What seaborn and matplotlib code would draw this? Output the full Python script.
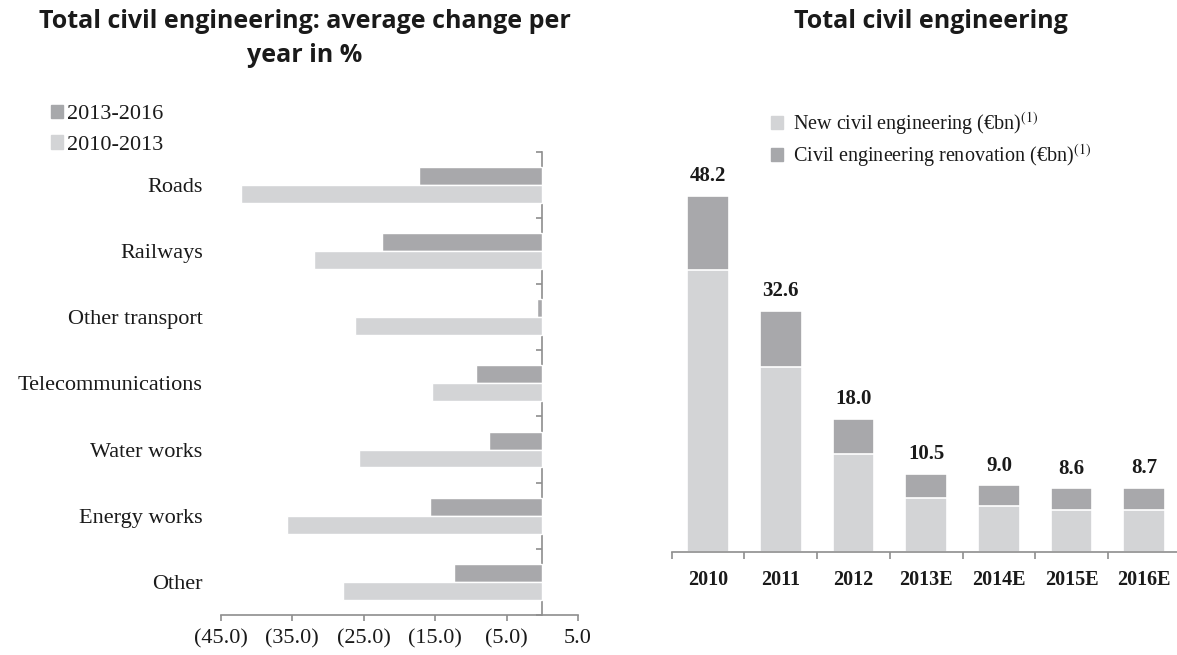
import numpy as np
import pandas as pd
import matplotlib
matplotlib.use("Agg")
import matplotlib.pyplot as plt
from matplotlib.patches import Patch
import seaborn as sns

# ---- data -------------------------------------------------------------
categories = ["Roads", "Railways", "Other transport", "Telecommunications",
              "Water works", "Energy works", "Other"]
change_2013_2016 = [-17.3, -22.4, -0.7, -9.3, -7.4, -15.7, -12.4]
change_2010_2013 = [-42.1, -32.0, -26.2, -15.4, -25.7, -35.7, -27.9]
periods = ["2013-2016", "2010-2013"]

xtick_values = [-45, -35, -25, -15, -5, 5]
xtick_labels = ["(45.0)", "(35.0)", "(25.0)", "(15.0)", "(5.0)", "5.0"]

years = ["2010", "2011", "2012", "2013E", "2014E", "2015E", "2016E"]
total_bn = [48.2, 32.6, 18.0, 10.5, 9.0, 8.6, 8.7]
new_bn = [38.2, 25.0, 13.2, 7.3, 6.2, 5.7, 5.7]
renovation_bn = [t - n for t, n in zip(total_bn, new_bn)]

# ---- style ------------------------------------------------------------
DARK = "#a7a8ab"
LIGHT = "#d3d4d6"
AXIS = "#8e8e8e"
TEXT = "#1a1a1a"
TITLE_FONT = dict(fontsize=18, fontweight="bold", family="Open Sans",
                  ha="center", va="center")

sns.set_style("white")
plt.rcParams["font.family"] = ["Liberation Serif", "DejaVu Serif"]
plt.rcParams["mathtext.fontset"] = "stix"
plt.rcParams["text.color"] = TEXT
plt.rcParams["xtick.color"] = AXIS
plt.rcParams["ytick.color"] = AXIS
plt.rcParams["xtick.labelcolor"] = TEXT
plt.rcParams["ytick.labelcolor"] = TEXT

fig = plt.figure(figsize=(11.77, 6.55), dpi=100)

# ---- left: average change per year -------------------------------------
df_change = pd.DataFrame({
    "category": categories * 2,
    "change": change_2013_2016 + change_2010_2013,
    "period": [periods[0]] * len(categories) + [periods[1]] * len(categories),
})

ax1 = fig.add_axes([0.1875, 0.0611, 0.3036, 0.7073])
sns.barplot(data=df_change, y="category", x="change", hue="period",
            hue_order=periods, palette=[DARK, LIGHT], orient="h",
            width=0.54, edgecolor="white", linewidth=1, errorbar=None,
            legend=False, ax=ax1)
ax1.set_xlim(-45, 5)
ax1.set_ylim(len(categories) - 0.5, -0.5)
ax1.set_xlabel("")
ax1.set_ylabel("")
for side in ["top", "right", "left"]:
    ax1.spines[side].set_visible(False)
ax1.spines["bottom"].set_color(AXIS)
ax1.spines["bottom"].set_linewidth(1.2)
ax1.set_xticks(xtick_values)
ax1.set_xticklabels(xtick_labels)
ax1.tick_params(axis="x", direction="out", length=4, width=1.2, pad=6,
                labelsize=16, bottom=True)
ax1.tick_params(axis="y", length=0, pad=13, labelsize=16)

# zero line with category separators
zero_axis = ax1.secondary_yaxis(45 / 50)
zero_axis.set_alignment("left")
zero_axis.set_yticks(np.arange(-0.5, len(categories), 1.0))
zero_axis.set_yticklabels([])
zero_axis.tick_params(direction="out", length=4, width=1.2, color=AXIS)
zero_axis.spines["left"].set_color(AXIS)
zero_axis.spines["left"].set_linewidth(1.2)

fig.legend(handles=[Patch(color=DARK, label=periods[0]),
                    Patch(color=LIGHT, label=periods[1])],
           loc="upper left", bbox_to_anchor=(0.043, 0.84),
           frameon=False, fontsize=16, handlelength=0.55, handleheight=0.55,
           handletextpad=0.2, labelspacing=0.5, borderpad=0, borderaxespad=0)

fig.text(305 / 1177, 1 - 22 / 655,
         "Total civil engineering: average change per", **TITLE_FONT)
fig.text(305 / 1177, 1 - 56 / 655, "year in %", **TITLE_FONT)

# ---- right: total civil engineering --------------------------------------
ymax = 55
ax2 = fig.add_axes([0.5707, 0.1577, 0.4324, ymax * 7.38 / 655])
sns.barplot(x=years, y=total_bn, color=DARK, width=0.575,
            edgecolor="white", linewidth=1.2, errorbar=None, ax=ax2)
sns.barplot(x=years, y=new_bn, color=LIGHT, width=0.575,
            edgecolor="white", linewidth=1.2, errorbar=None, ax=ax2)
ax2.bar_label(ax2.containers[0], labels=[f"{v:.1f}" for v in total_bn],
              padding=7, fontsize=15, fontweight="bold", color=TEXT)
ax2.set_ylim(0, ymax)
ax2.set_xlim(-0.5, len(years) - 0.5)
for side in ["top", "right", "left"]:
    ax2.spines[side].set_visible(False)
ax2.spines["bottom"].set_color(AXIS)
ax2.spines["bottom"].set_linewidth(1.2)
ax2.set_yticks([])
ax2.set_xticks(np.arange(-0.5, len(years), 1.0), minor=True)
ax2.tick_params(axis="x", which="minor", direction="out", length=5,
                width=1.2, bottom=True)
ax2.tick_params(axis="x", which="major", length=0, pad=13, labelsize=14.5)
for lbl in ax2.get_xticklabels():
    lbl.set_fontweight("bold")

fig.legend(handles=[Patch(color=LIGHT, label=r"New civil engineering (€bn)$^{(1)}$"),
                    Patch(color=DARK, label=r"Civil engineering renovation (€bn)$^{(1)}$")],
           loc="upper left", bbox_to_anchor=(0.655, 0.832),
           frameon=False, fontsize=14.5, handlelength=0.6, handleheight=0.6,
           handletextpad=0.5, labelspacing=0.25, borderpad=0, borderaxespad=0)

fig.text(931 / 1177, 1 - 22 / 655, "Total civil engineering", **TITLE_FONT)

fig.savefig("out.png", dpi=100)
